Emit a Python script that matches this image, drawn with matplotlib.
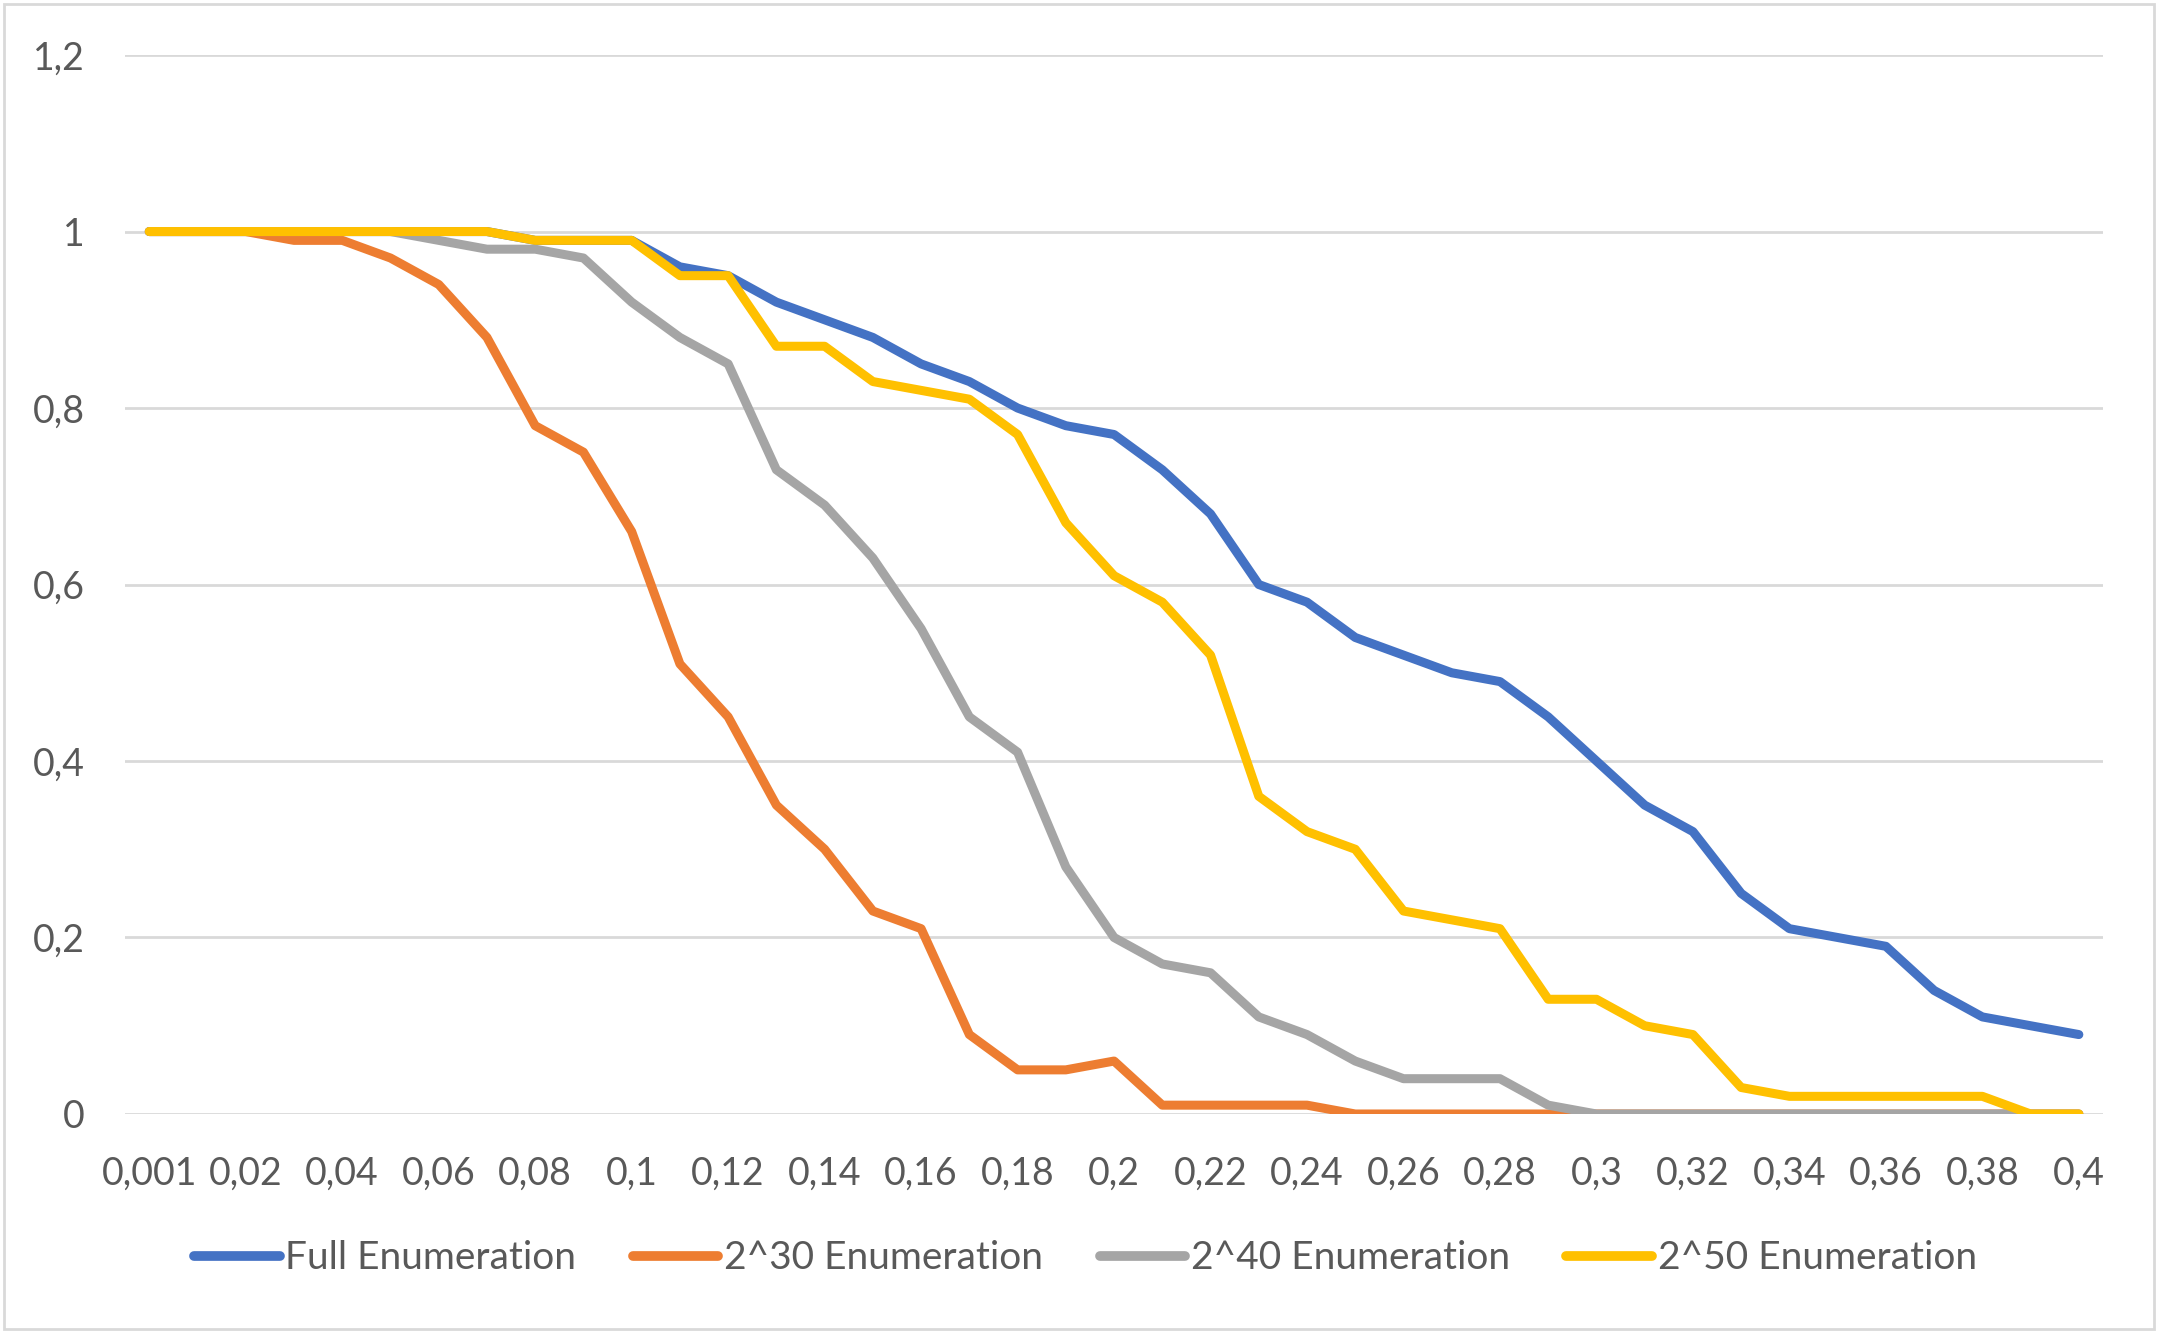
import matplotlib
matplotlib.use("Agg")
import matplotlib.pyplot as plt
from matplotlib.patches import Rectangle

# x categories: 0.001 then 0.01 ... 0.40
categories = [0.001] + [round(0.01 * i, 2) for i in range(1, 41)]

full_enum = [1, 1, 1, 1, 1, 1, 1, 1, 0.99, 0.99, 0.99,
             0.96, 0.95, 0.92, 0.90, 0.88, 0.85, 0.83, 0.80, 0.78, 0.77,
             0.73, 0.68, 0.60, 0.58, 0.54, 0.52, 0.50, 0.49, 0.45, 0.40,
             0.35, 0.32, 0.25, 0.21, 0.20, 0.19, 0.14, 0.11, 0.10, 0.09]
enum_2_30 = [1, 1, 1, 0.99, 0.99, 0.97, 0.94, 0.88, 0.78, 0.75, 0.66,
             0.51, 0.45, 0.35, 0.30, 0.23, 0.21, 0.09, 0.05, 0.05, 0.06,
             0.01, 0.01, 0.01, 0.01, 0, 0, 0, 0, 0, 0,
             0, 0, 0, 0, 0, 0, 0, 0, 0, 0]
enum_2_40 = [1, 1, 1, 1, 1, 1, 0.99, 0.98, 0.98, 0.97, 0.92,
             0.88, 0.85, 0.73, 0.69, 0.63, 0.55, 0.45, 0.41, 0.28, 0.20,
             0.17, 0.16, 0.11, 0.09, 0.06, 0.04, 0.04, 0.04, 0.01, 0,
             0, 0, 0, 0, 0, 0, 0, 0, 0, 0]
enum_2_50 = [1, 1, 1, 1, 1, 1, 1, 1, 0.99, 0.99, 0.99,
             0.95, 0.95, 0.87, 0.87, 0.83, 0.82, 0.81, 0.77, 0.67, 0.61,
             0.58, 0.52, 0.36, 0.32, 0.30, 0.23, 0.22, 0.21, 0.13, 0.13,
             0.10, 0.09, 0.03, 0.02, 0.02, 0.02, 0.02, 0.02, 0, 0]

series = [
    ("Full Enumeration", full_enum, "#4472C4"),
    ("2^30 Enumeration", enum_2_30, "#ED7D31"),
    ("2^40 Enumeration", enum_2_40, "#A5A5A5"),
    ("2^50 Enumeration", enum_2_50, "#FFC000"),
]
y_ticks = [0, 0.2, 0.4, 0.6, 0.8, 1.0, 1.2]

def comma(v):
    s = ("%g" % v)
    return s.replace(".", ",")

plt.rcParams['font.family'] = ['Lato', 'DejaVu Sans']
text_col = "#595959"

fig = plt.figure(figsize=(21.58, 13.33), dpi=100)
ax = fig.add_axes([0.058, 0.1643, 0.9165, 0.7944])

x = list(range(len(categories)))
for name, vals, col in series:
    ax.plot(x, vals, color=col, lw=6.5, label=name, solid_capstyle="round",
            solid_joinstyle="round")

ax.set_xlim(-0.5, len(categories) - 0.5)
ax.set_ylim(0, 1.2)
ax.set_yticks(y_ticks)
ax.set_yticklabels([comma(v) for v in y_ticks])
ax.set_xticks(x[::2])
ax.set_xticklabels([comma(c) for c in categories[::2]])
ax.grid(axis="y", color="#D9D9D9", lw=2)
ax.set_axisbelow(True)
for s in ax.spines.values():
    s.set_visible(False)
ax.tick_params(axis="both", length=0, labelsize=27, colors=text_col)
ax.tick_params(axis="y", pad=29)
ax.tick_params(axis="x", pad=30)

leg = fig.legend(loc="center", bbox_to_anchor=(0.503, 0.056), ncol=4,
                 frameon=False, fontsize=28, handlelength=2.2,
                 handletextpad=0.15, columnspacing=1.45)
for t in leg.get_texts():
    t.set_color(text_col)
for h in leg.get_lines():
    h.set_linewidth(7)

# chart area border
fig.patches.append(Rectangle((0.002, 0.003), 0.996, 0.994, transform=fig.transFigure,
                             fill=False, edgecolor="#D9D9D9", lw=2))

fig.savefig("out.png", dpi=100)
